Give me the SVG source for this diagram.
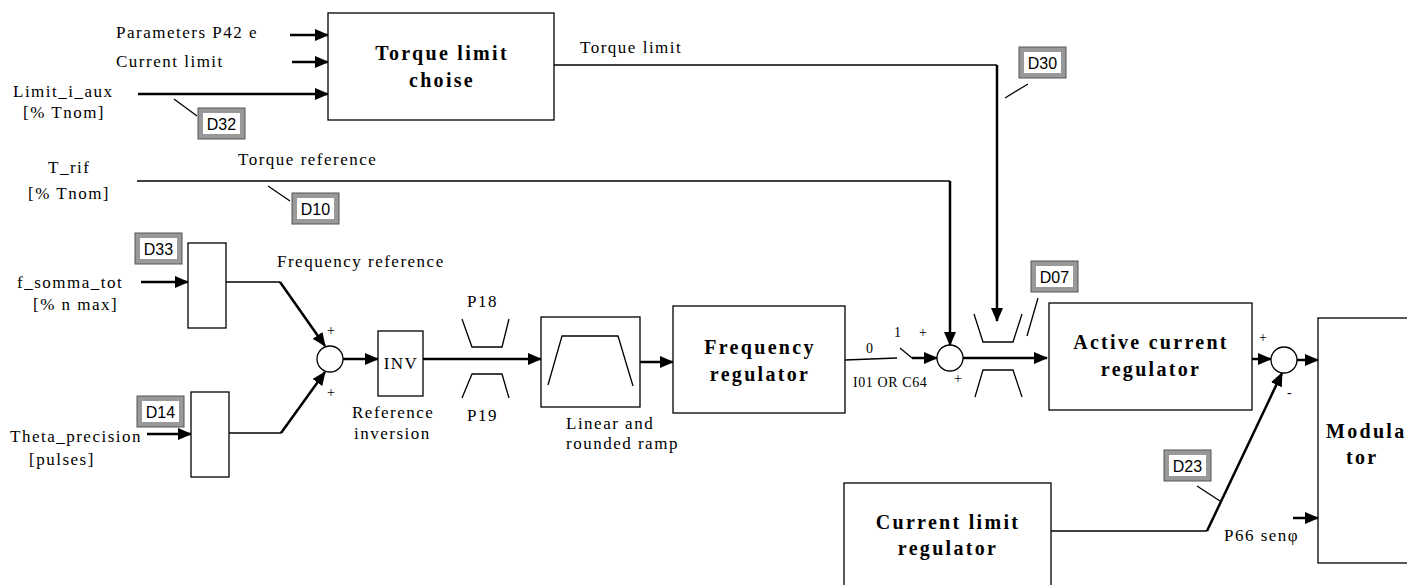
<svg xmlns="http://www.w3.org/2000/svg" width="1407" height="585" viewBox="0 0 1407 585">
<style>
.t{font-family:"Liberation Serif",serif;font-size:17px;letter-spacing:1.5px;fill:#000}
.ts{font-family:"Liberation Serif",serif;font-size:14px;fill:#000}
.b{font-family:"Liberation Serif",serif;font-size:20px;font-weight:bold;letter-spacing:2.3px;fill:#000;text-anchor:middle}
.bs{font-family:"Liberation Serif",serif;font-size:20px;font-weight:bold;letter-spacing:2.3px;fill:#000;text-anchor:start}
.d{font-family:"Liberation Sans",sans-serif;font-size:16px;fill:#000;text-anchor:middle}
.box{fill:#fff;stroke:#000;stroke-width:1.3}
.thin{fill:none;stroke:#000;stroke-width:1.3}
.thick{fill:none;stroke:#000;stroke-width:2.5}
.dout{fill:#999;stroke:#555;stroke-width:1}
.din{fill:#fff;stroke:none}
</style>
<defs>
<marker id="ah" markerUnits="userSpaceOnUse" markerWidth="14" markerHeight="12" refX="13" refY="6" orient="auto">
<path d="M0,0 L14,6 L0,12 Z" fill="#000"/>
</marker>
<g id="dbox"><rect class="dout" x="0" y="0" width="47" height="31"/><rect class="din" x="5" y="5" width="37" height="21"/></g>
</defs>

<g id="connectors">
<path class="thick" d="M290,35 L328,35" marker-end="url(#ah)"/>
<path class="thick" d="M292,62 L328,62" marker-end="url(#ah)"/>
<path class="thick" d="M138,94 L328,94" marker-end="url(#ah)"/>
<path class="thin" d="M174,99 L197,116"/>
<path class="thin" d="M554,65 L997,65"/>
<path class="thick" d="M997,65 L997,321" marker-end="url(#ah)"/>
<path class="thin" d="M1005,98 L1028,84"/>
<path class="thin" d="M137,181 L950,181"/>
<path class="thick" d="M950,181 L950,345" marker-end="url(#ah)"/>
<path class="thin" d="M268,186 L290,201"/>
<path class="thick" d="M141,282 L188,282" marker-end="url(#ah)"/>
<path class="thin" d="M226,282 L280,282"/>
<path class="thick" d="M280,282 L325,346" marker-end="url(#ah)"/>
<path class="thick" d="M147,434 L191,434" marker-end="url(#ah)"/>
<path class="thin" d="M229,433 L281,433"/>
<path class="thick" d="M281,433 L325,372" marker-end="url(#ah)"/>
<path class="thick" d="M343,359 L378,359" marker-end="url(#ah)"/>
<path class="thick" d="M423,359 L541,359" marker-end="url(#ah)"/>
<path class="thick" d="M640,362 L673,362" marker-end="url(#ah)"/>
<path class="thin" d="M845,360 L897,358"/>
<path class="thin" d="M900,348 L912,358"/>
<path class="thick" d="M912,358 L937,358" marker-end="url(#ah)"/>
<path class="thick" d="M963,358 L1047,358" marker-end="url(#ah)"/>
<path class="thin" d="M1027,336 L1038,298"/>
<path class="thick" d="M1252,359 L1271,359" marker-end="url(#ah)"/>
<path class="thick" d="M1297,360 L1318,360" marker-end="url(#ah)"/>
<path class="thick" d="M1293,518 L1318,518" marker-end="url(#ah)"/>
<path class="thin" d="M1051,531 L1207,531"/>
<path class="thick" d="M1207,531 L1282,373" marker-end="url(#ah)"/>
<path class="thin" d="M1197,486 L1220,501"/>
</g>

<g id="torque-limit-choise">
<rect class="box" x="328" y="13" width="226" height="107"/>
<text class="b" x="442" y="60">Torque limit</text>
<text class="b" x="442" y="87">choise</text>
</g>
<g id="input-labels">
<text class="t" x="116" y="38">Parameters P42 e</text>
<text class="t" x="116" y="67">Current limit</text>
<text class="t" x="13" y="97">Limit_i_aux</text>
<text class="t" x="23" y="118">[% Tnom]</text>
<text class="t" x="580" y="53">Torque limit</text>
<text class="t" x="48" y="173">T_rif</text>
<text class="t" x="28" y="199">[% Tnom]</text>
<text class="t" x="238" y="165">Torque reference</text>
<text class="t" x="17" y="288">f_somma_tot</text>
<text class="t" x="33" y="310">[% n max]</text>
<text class="t" x="277" y="267">Frequency reference</text>
<text class="t" x="10" y="442">Theta_precision</text>
<text class="t" x="29" y="465">[pulses]</text>
</g>
<g id="D32"><use href="#dbox" x="198" y="108"/><text class="d" x="221.5" y="129.5">D32</text></g>
<g id="D30"><use href="#dbox" x="1019" y="47"/><text class="d" x="1042.5" y="68.5">D30</text></g>
<g id="D10"><use href="#dbox" x="292" y="193"/><text class="d" x="315.5" y="214.5">D10</text></g>
<g id="D33"><use href="#dbox" x="135" y="233"/><text class="d" x="158.5" y="254.5">D33</text></g>
<g id="D14"><use href="#dbox" x="137" y="396"/><text class="d" x="160.5" y="417.5">D14</text></g>
<g id="D07"><use href="#dbox" x="1031" y="261"/><text class="d" x="1054.5" y="282.5">D07</text></g>
<g id="D23"><use href="#dbox" x="1164" y="450"/><text class="d" x="1187.5" y="471.5">D23</text></g>

<g id="block-f"><rect class="box" x="188" y="243" width="38" height="85"/></g>
<g id="block-theta"><rect class="box" x="191" y="392" width="38" height="85"/></g>
<g id="sum1">
<circle class="box" cx="330" cy="359" r="13"/>
<text class="ts" x="327" y="335">+</text>
<text class="ts" x="327" y="397">+</text>
</g>
<g id="inv">
<rect class="box" x="378" y="331" width="45" height="65"/>
<text class="t" x="401" y="369" text-anchor="middle">INV</text>
<text class="t" x="352" y="418">Reference</text>
<text class="t" x="354" y="439">inversion</text>
</g>
<g id="limiter-p18-p19">
<path class="thin" d="M462,319 L472,347 L502,347 L509,319"/>
<path class="thin" d="M462,398 L472,374 L502,374 L509,398"/>
<text class="t" x="467" y="307">P18</text>
<text class="t" x="467" y="421">P19</text>
</g>
<g id="ramp">
<rect class="box" x="541" y="317" width="99" height="90"/>
<path class="thin" d="M548,385 L562,336 L618,336 L633,386"/>
<text class="t" x="566" y="429">Linear and</text>
<text class="t" x="566" y="449">rounded ramp</text>
</g>
<g id="frequency-regulator">
<rect class="box" x="673" y="306" width="172" height="107"/>
<text class="b" x="760" y="354">Frequency</text>
<text class="b" x="760" y="381">regulator</text>
</g>
<g id="switch">
<text class="ts" x="866" y="353">0</text>
<text class="ts" x="894" y="337" font-size="12">1</text>
<text class="ts" x="919" y="337">+</text>
<text class="ts" x="853" y="387" style="letter-spacing:0.6px">I01 OR C64</text>
<text class="ts" x="954" y="383">+</text>
</g>
<g id="sum2"><circle class="box" cx="950" cy="358" r="13"/></g>
<g id="limiter-torque">
<path class="thin" d="M974,314 L983,342 L1013,342 L1022,314"/>
<path class="thin" d="M975,397 L983,370 L1013,370 L1022,397"/>
</g>
<g id="active-current-regulator">
<rect class="box" x="1049" y="303" width="203" height="107"/>
<text class="b" x="1151" y="349">Active current</text>
<text class="b" x="1151" y="376">regulator</text>
</g>
<g id="sum3">
<circle class="box" cx="1284" cy="360" r="13"/>
<text class="ts" x="1259" y="342">+</text>
<text class="ts" x="1287" y="397">-</text>
</g>
<g id="modulator">
<rect class="box" x="1318" y="318" width="110" height="245"/>
<text class="bs" x="1326" y="438">Modula</text>
<text class="bs" x="1346" y="464">tor</text>
<text class="t" x="1224" y="541">P66 senφ</text>
</g>
<g id="current-limit-regulator">
<rect class="box" x="844" y="483" width="207" height="120"/>
<text class="b" x="948" y="529">Current limit</text>
<text class="b" x="948" y="555">regulator</text>
</g>
</svg>
